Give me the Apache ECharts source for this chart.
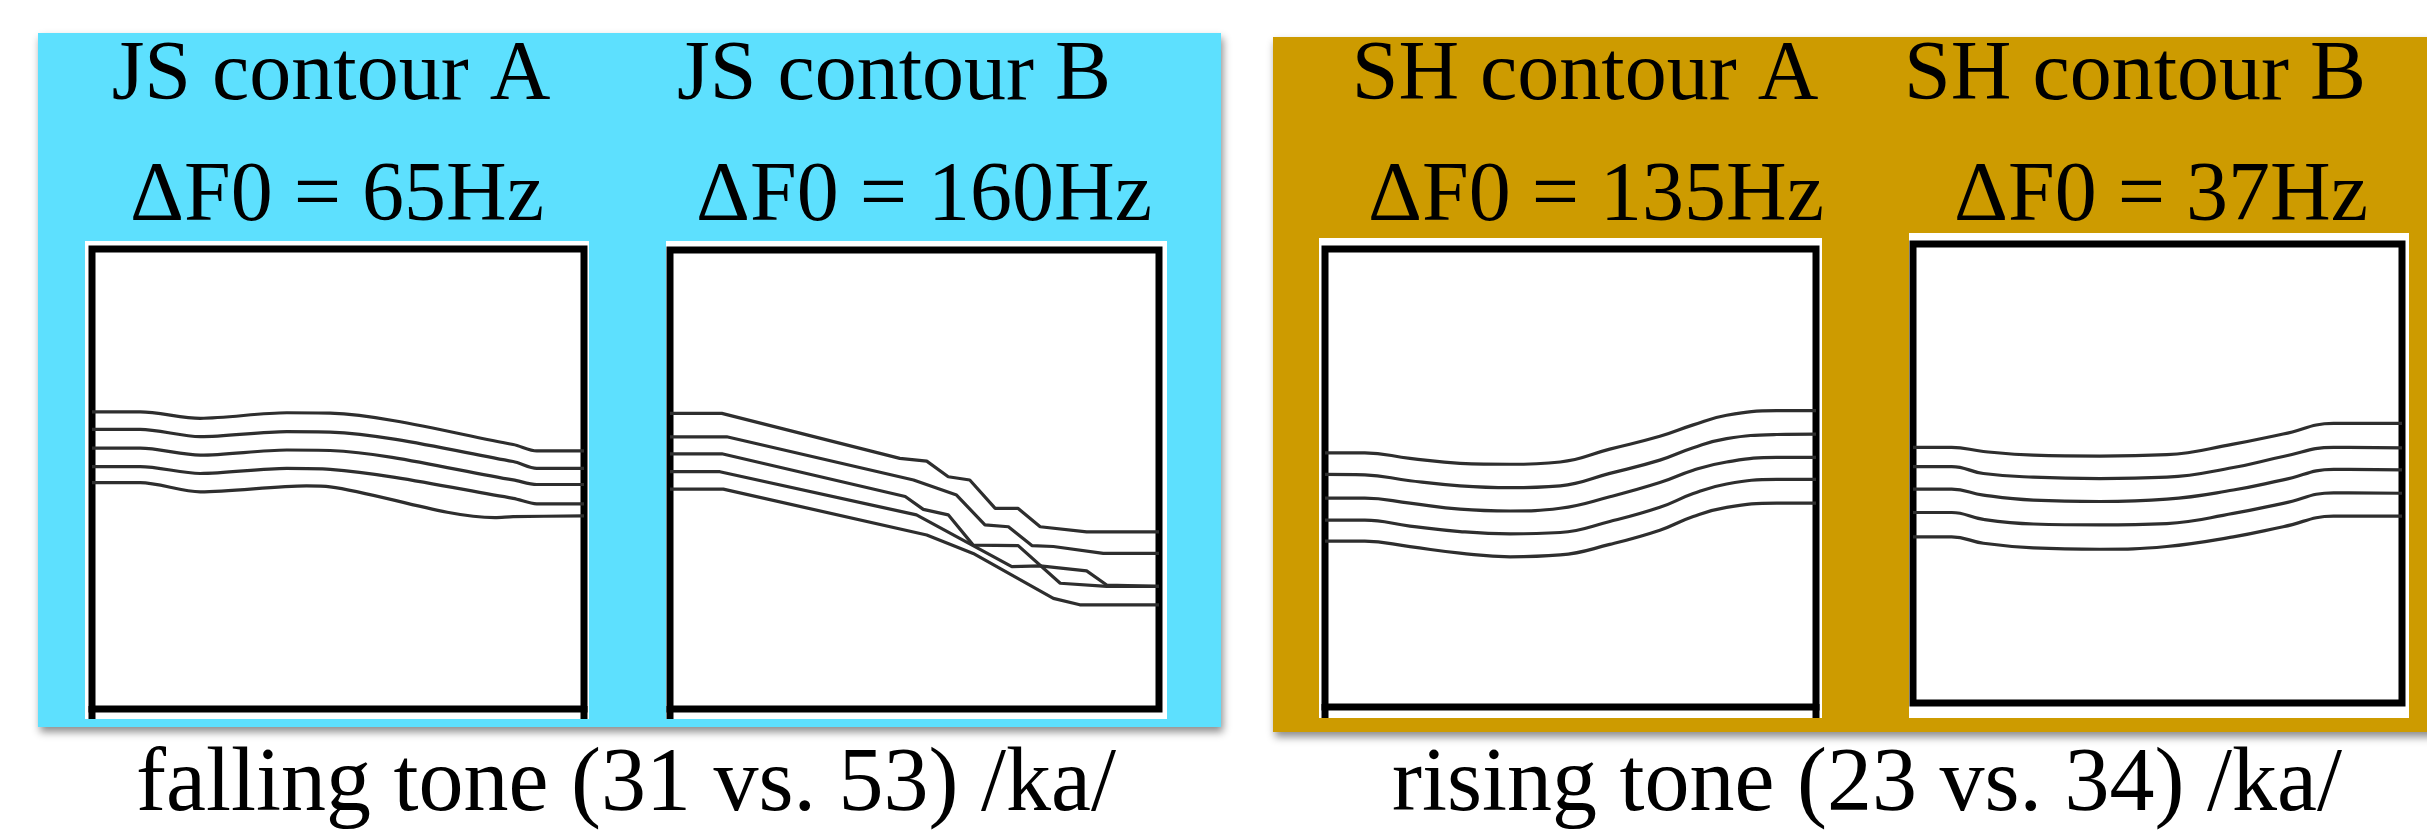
<!DOCTYPE html>
<html>
<head>
<meta charset="utf-8">
<script src="https://cdn.jsdelivr.net/npm/echarts@6/dist/echarts.min.js"></script>
<style>
  html, body { margin: 0; padding: 0; background: #ffffff; }
  #chart { width: 2427px; height: 831px; }
</style>
</head>
<body>
<div id="chart"></div>
<script>
// ---- Data: normalized time (0-100 %) vs. relative F0 (0-100 % of panel range) ----
// JS contour A (falling tone)
const jsA_1 = [[0,64.6],[9.8,64.6],[22,63.2],[39.6,64.4],[48.4,64.3],[85.6,57.5],[90.4,56.1],[100,56.1]];
const jsA_2 = [[0,60.8],[9.8,60.8],[22,59.2],[39.6,60.3],[48.4,60.2],[85.6,53.8],[90.4,52.3],[100,52.3]];
const jsA_3 = [[0,56.7],[9.8,56.7],[22,55.2],[39.6,56.3],[48.4,56.2],[85.6,49.8],[90.4,48.8],[100,48.8]];
const jsA_4 = [[0,52.7],[9.8,52.7],[22,51.2],[39.6,52.3],[48.4,52.1],[85.6,45.8],[90.4,44.6],[100,44.6]];
const jsA_5 = [[0,49.2],[9.8,49.2],[22,47.2],[43.6,48.5],[48.4,48.3],[81.9,41.6],[85.6,41.8],[100,42.0]];
// JS contour B (falling tone)
const jsB_1 = [[0,64.4],[10.6,64.4],[47.0,54.6],[52.5,54.0],[56.9,50.6],[61.3,49.9],[66.5,43.7],[71.2,43.7],[75.7,39.7],[85.2,38.6],[100,38.6]];
const jsB_2 = [[0,59.3],[11.6,59.3],[49.8,49.9],[58.6,46.6],[64.4,40.1],[69.2,39.7],[74.0,35.6],[78.4,35.4],[88.6,33.9],[100,33.9]];
const jsB_3 = [[0,55.6],[10.6,55.6],[48.1,46.3],[51.8,43.5],[56.9,42.3],[62.0,35.7],[71.2,35.6],[79.8,27.4],[89.3,26.7],[100,26.7]];
const jsB_4 = [[0,51.7],[10.2,51.7],[50.4,42.3],[69.9,31.0],[75.7,31.2],[85.2,30.1],[89.3,27.0],[100,26.7]];
const jsB_5 = [[0,47.9],[10.9,47.9],[52.5,37.9],[62.0,33.9],[78.4,24.1],[83.8,22.7],[100,22.7]];
// SH contour A (rising tone)
const shA_t = [0, 8.1, 17.3, 27.5, 37.7, 47.9, 58.0, 68.2, 75.0, 81.8, 92.0, 100];
const shA_1 = [55.5,55.5,54.3,53.2,53.0,53.5,56.3,59.1,61.6,63.7,64.7,64.7];
const shA_2 = [50.8,50.7,49.4,48.3,47.9,48.3,51.0,53.9,56.6,58.6,59.5,59.6];
const shA_3 = [45.6,45.6,44.5,43.2,42.8,43.4,45.9,49.0,51.7,53.5,54.5,54.5];
const shA_4 = [40.8,40.8,39.5,38.3,37.8,38.1,40.5,43.6,46.6,48.7,49.7,49.7];
const shA_5 = [36.2,36.2,35.0,33.6,32.8,33.2,35.5,38.6,41.6,43.6,44.5,44.5];
// SH contour B (rising tone)
const shB_t = [0, 7.9, 14.4, 24.6, 38.2, 51.9, 65.5, 75.7, 86.0, 100];
const shB_1 = [55.7,55.7,54.8,54.0,53.8,54.1,56.4,58.6,60.9,60.9];
const shB_2 = [51.5,51.5,50.0,49.2,48.9,49.2,51.3,53.7,55.7,55.6];
const shB_3 = [46.6,46.6,45.3,44.2,43.9,44.4,46.4,48.6,50.9,50.8];
const shB_4 = [41.5,41.5,40.0,39.0,38.8,39.1,41.3,43.5,45.8,45.7];
const shB_5 = [36.2,36.2,34.8,33.8,33.5,34.1,36.2,38.4,40.7,40.7];

// ---- Text ----
const panelTitles = ['JS contour A', 'JS contour B', 'SH contour A', 'SH contour B'];
const deltaLabels = ['\u0394F0 = 65Hz', '\u0394F0 = 160Hz', '\u0394F0 = 135Hz', '\u0394F0 = 37Hz'];
const toneLabels = ['falling tone (31 vs. 53) /ka/', 'rising tone (23 vs. 34) /ka/'];

// ---- Build ----
const zip = (t, v) => t.map((x, i) => [x, v[i]]);
const panels = [
  { lines: [jsA_1, jsA_2, jsA_3, jsA_4, jsA_5], smooth: 0.3 },
  { lines: [jsB_1, jsB_2, jsB_3, jsB_4, jsB_5], smooth: false },
  { lines: [shA_1, shA_2, shA_3, shA_4, shA_5].map(v => zip(shA_t, v)), smooth: 0.45 },
  { lines: [shB_1, shB_2, shB_3, shB_4, shB_5].map(v => zip(shB_t, v)), smooth: 0.45 }
];

const gridBoxes = [
  { left: 92, top: 249, width: 492, height: 460 },
  { left: 670, top: 250, width: 489, height: 459 },
  { left: 1325, top: 249, width: 491, height: 458 },
  { left: 1913, top: 244, width: 489, height: 459 }
];

const FONT = '"Liberation Serif", "Times New Roman", serif';

const series = [];
panels.forEach((p, gi) => {
  p.lines.forEach(d => {
    series.push({
      type: 'line',
      xAxisIndex: gi, yAxisIndex: gi,
      data: d,
      smooth: p.smooth,
      showSymbol: false,
      silent: true,
      lineStyle: { color: '#2e2e2e', width: 3.2 },
      z: 3
    });
  });
});

const titlePos = [
  { x: 331, y: 77 }, { x: 894, y: 77 }, { x: 1585, y: 77 }, { x: 2135, y: 77 }
];
const deltaPos = [
  { x: 337, y: 198 }, { x: 924, y: 198 }, { x: 1596, y: 198 }, { x: 2161, y: 198 }
];
const tonePos = [{ x: 626, y: 786 }, { x: 1867, y: 786 }];

const graphic = [
  { type: 'rect', z: -20, shape: { x: 38, y: 33, width: 1183, height: 694 },
    style: { fill: '#5de0fe', shadowBlur: 8, shadowOffsetX: 2, shadowOffsetY: 5, shadowColor: 'rgba(0,0,0,0.45)' } },
  { type: 'rect', z: -20, shape: { x: 1273, y: 37, width: 1170, height: 695 },
    style: { fill: '#cd9b00', shadowBlur: 8, shadowOffsetX: 2, shadowOffsetY: 5, shadowColor: 'rgba(0,0,0,0.45)' } },
  { type: 'rect', z: -10, shape: { x: 85, y: 241, width: 504, height: 478 }, style: { fill: '#ffffff' } },
  { type: 'rect', z: -10, shape: { x: 666, y: 241, width: 501, height: 478 }, style: { fill: '#ffffff' } },
  { type: 'rect', z: -10, shape: { x: 1319, y: 238, width: 503, height: 480 }, style: { fill: '#ffffff' } },
  { type: 'rect', z: -10, shape: { x: 1909, y: 233, width: 500, height: 485 }, style: { fill: '#ffffff' } },
  // axis stubs below frames
  { type: 'line', z: 5, shape: { x1: 92, y1: 706, x2: 92, y2: 719 }, style: { stroke: '#000', lineWidth: 7 } },
  { type: 'line', z: 5, shape: { x1: 584, y1: 706, x2: 584, y2: 719 }, style: { stroke: '#000', lineWidth: 7 } },
  { type: 'line', z: 5, shape: { x1: 670, y1: 706, x2: 670, y2: 719 }, style: { stroke: '#000', lineWidth: 7 } },
  { type: 'line', z: 5, shape: { x1: 1325, y1: 704, x2: 1325, y2: 718 }, style: { stroke: '#000', lineWidth: 7 } },
  { type: 'line', z: 5, shape: { x1: 1816, y1: 704, x2: 1816, y2: 718 }, style: { stroke: '#000', lineWidth: 7 } }
];
panelTitles.forEach((t, i) => graphic.push({
  type: 'text', z: 10, style: { text: t, x: titlePos[i].x, y: titlePos[i].y, fill: '#000',
    font: '84px ' + FONT, align: 'center', verticalAlign: 'middle' } }));
deltaLabels.forEach((t, i) => graphic.push({
  type: 'text', z: 10, style: { text: t, x: deltaPos[i].x, y: deltaPos[i].y, fill: '#000',
    font: '84px ' + FONT, align: 'center', verticalAlign: 'middle' } }));
toneLabels.forEach((t, i) => graphic.push({
  type: 'text', z: 10, style: { text: t, x: tonePos[i].x, y: tonePos[i].y, fill: '#000',
    font: '90px ' + FONT, align: 'center', verticalAlign: 'middle' } }));

const option = {
  animation: false,
  backgroundColor: '#ffffff',
  grid: gridBoxes.map(b => Object.assign({ show: true, borderColor: '#000', borderWidth: 7,
    backgroundColor: 'transparent', containLabel: false }, b)),
  xAxis: gridBoxes.map((b, i) => ({ type: 'value', gridIndex: i, min: 0, max: 100, show: false })),
  yAxis: gridBoxes.map((b, i) => ({ type: 'value', gridIndex: i, min: 0, max: 100, show: false })),
  graphic: graphic,
  series: series
};

const chart = echarts.init(document.getElementById('chart'), null, { renderer: 'canvas' });
chart.setOption(option);
</script>
</body>
</html>
